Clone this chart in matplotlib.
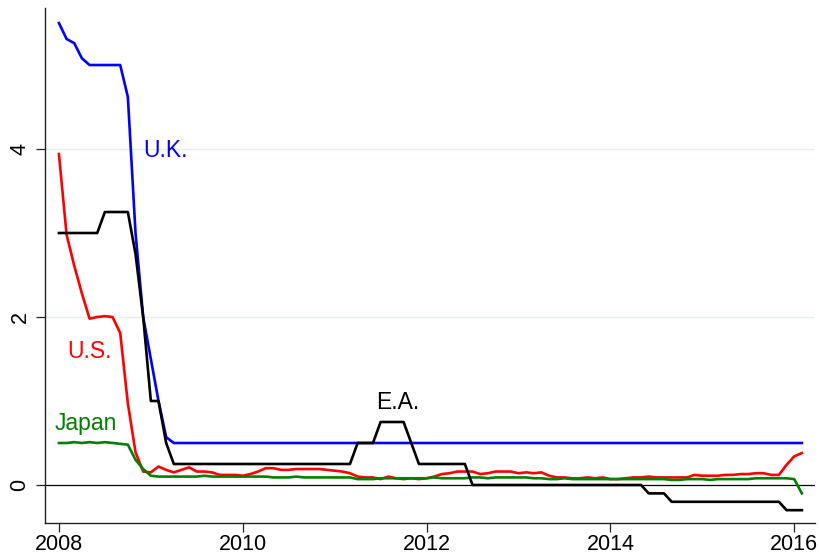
import numpy as np
import matplotlib
matplotlib.use('Agg')
import matplotlib.pyplot as plt

plt.rcParams['font.family'] = ['Liberation Sans', 'DejaVu Sans']

# ========== Tasas de política monetaria, mensual 2008m1 - 2016m2 ==========

uk = [5.50, 5.31, 5.26, 5.08, 5.00, 5.00, 5.00, 5.00, 5.00, 4.62, 3.00, 2.00,
      1.50, 1.00, 0.57] + [0.50] * 83

us = [3.94, 2.98, 2.61, 2.28, 1.98, 2.00, 2.01, 2.00, 1.81, 0.97, 0.39, 0.16,
      0.15, 0.22, 0.18, 0.15, 0.18, 0.21, 0.16, 0.16, 0.15, 0.12, 0.12, 0.12,
      0.11, 0.13, 0.16, 0.20, 0.20, 0.18, 0.18, 0.19, 0.19, 0.19, 0.19, 0.18,
      0.17, 0.16, 0.14, 0.10, 0.09, 0.09, 0.07, 0.10, 0.08, 0.07, 0.08, 0.07,
      0.08, 0.10, 0.13, 0.14, 0.16, 0.16, 0.16, 0.13, 0.14, 0.16, 0.16, 0.16,
      0.14, 0.15, 0.14, 0.15, 0.11, 0.09, 0.09, 0.08, 0.08, 0.09, 0.08, 0.09,
      0.07, 0.07, 0.08, 0.09, 0.09, 0.10, 0.09, 0.09, 0.09, 0.09, 0.09, 0.12,
      0.11, 0.11, 0.11, 0.12, 0.12, 0.13, 0.13, 0.14, 0.14, 0.12, 0.12, 0.24,
      0.34, 0.38]

japan = [0.50, 0.50, 0.51, 0.50, 0.51, 0.50, 0.51, 0.50, 0.49, 0.48, 0.30, 0.19,
         0.11, 0.10, 0.10, 0.10, 0.10, 0.10, 0.10, 0.11, 0.10, 0.10, 0.10, 0.10,
         0.10, 0.10, 0.10, 0.10, 0.09, 0.09, 0.09, 0.10, 0.09, 0.09, 0.09, 0.09,
         0.09, 0.09, 0.09, 0.07, 0.07, 0.07, 0.08, 0.08, 0.08, 0.08, 0.08, 0.08,
         0.08, 0.09, 0.08, 0.08, 0.08, 0.08, 0.09, 0.09, 0.08, 0.09, 0.09, 0.09,
         0.09, 0.09, 0.08, 0.08, 0.07, 0.07, 0.08, 0.07, 0.07, 0.07, 0.07, 0.07,
         0.07, 0.07, 0.07, 0.07, 0.07, 0.07, 0.07, 0.07, 0.06, 0.06, 0.07, 0.07,
         0.07, 0.06, 0.07, 0.07, 0.07, 0.07, 0.07, 0.08, 0.08, 0.08, 0.08, 0.08,
         0.07, -0.10]

ea = ([3.00] * 6 + [3.25] * 4 + [2.75, 2.00] +
      [1.00, 1.00, 0.50] + [0.25] * 9 +
      [0.25] * 12 +
      [0.25, 0.25, 0.25, 0.50, 0.50, 0.50, 0.75, 0.75, 0.75, 0.75, 0.50, 0.25] +
      [0.25] * 6 + [0.00] * 6 +
      [0.00] * 12 +
      [0.00] * 5 + [-0.10] * 3 + [-0.20] * 4 +
      [-0.20] * 11 + [-0.30] +
      [-0.30, -0.30])

dates = 2008 + np.arange(len(uk)) / 12

x_ticks = [2008, 2010, 2012, 2014, 2016]
y_ticks = [0, 2, 4]

# ========== Gráfica ==========

fig = plt.figure(figsize=(8.19, 5.55), dpi=100)
ax = fig.add_axes([0.0549, 0.0582, 0.9402, 0.9274])

ax.set_xlim(2007.848, 2016.226)
ax.set_ylim(-0.449, 5.679)

for y in [2, 4]:
    ax.axhline(y, color='#E3EDEF', lw=1.0, zorder=0)
ax.axhline(0, color='black', lw=0.9, zorder=1)

lw = 1.9
ax.plot(dates, uk, color='#0000FF', lw=lw, zorder=3)
ax.plot(dates, us, color='#FF0000', lw=lw, zorder=3)
ax.plot(dates, japan, color='#008000', lw=lw, zorder=3)
ax.plot(dates, ea, color='black', lw=lw, zorder=3)

fs = 16.5
ax.text(2008.92, 3.90, 'U.K.', color='#0000FF', fontsize=fs, va='baseline', ha='left')
ax.text(2008.09, 1.51, 'U.S.', color='#FF0000', fontsize=fs, va='baseline', ha='left')
ax.text(2007.952, 0.655, 'Japan', color='#008000', fontsize=fs, va='baseline', ha='left')
ax.text(2011.455, 0.90, 'E.A.', color='black', fontsize=fs, va='baseline', ha='left')

ax.set_xticks(x_ticks)
ax.set_xticklabels([str(v) for v in x_ticks])
ax.set_yticks(y_ticks)
ax.set_yticklabels([str(v) for v in y_ticks])

ax.spines['top'].set_visible(False)
ax.spines['right'].set_visible(False)
for s in ['left', 'bottom']:
    ax.spines[s].set_linewidth(1.0)
    ax.spines[s].set_color('#222222')

ax.tick_params(axis='both', direction='out', length=6.5, width=0.9,
               color='#222222', labelsize=15.5)
ax.tick_params(axis='x', pad=1.5)
ax.tick_params(axis='y', pad=4, labelrotation=90)
for lab in ax.get_yticklabels():
    lab.set_va('center')

plt.savefig('out.png', dpi=100)
plt.close(fig)
